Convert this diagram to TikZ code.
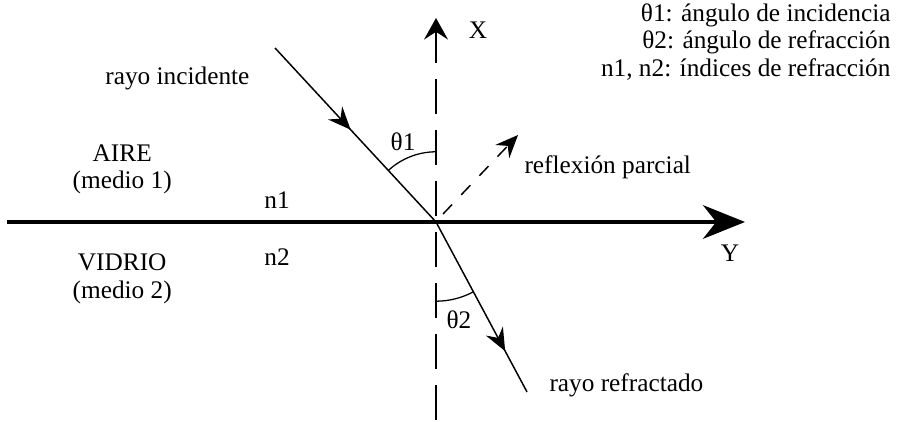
\documentclass[tikz,border=0pt]{standalone}
\usepackage{fontspec}
\setmainfont{Liberation Serif}
\usetikzlibrary{arrows.meta,positioning,decorations.markings}
\tikzset{
  axis/.style={draw=black, line width=1.9pt, -{Stealth[length=7mm, width=5.6mm, inset=2.2mm]}},
  normal/.style={draw=black, line width=0.7pt, dash pattern=on 5.8mm off 2.7mm,
    -{Stealth[length=3.6mm, width=4mm, inset=1.3mm]}},
  ray/.style={draw=black, line width=0.7pt},
  refl/.style={draw=black, line width=0.7pt, dash pattern=on 2.2mm off 2.2mm,
    -{Stealth[length=3.8mm, width=3.2mm, inset=1.3mm]}},
  midarrow/.style={postaction={decorate}, decoration={markings,
    mark=at position #1 with {\arrow{Stealth[length=3.8mm, width=3.2mm, inset=1.3mm]}}}},
  lbl/.style={font=\fontsize{12}{13}\selectfont, inner sep=1pt},
  angarc/.style={draw=black, line width=0.6pt}
}
\begin{document}
\begin{tikzpicture}
  \useasboundingbox (-7.267,-3.333) rectangle (7.733,3.7);
  % puntos
  \coordinate (O)    at (0,0);
  \coordinate (yl)   at (-7.15,0);
  \coordinate (yr)   at (5.15,0);
  \coordinate (xb)   at (0,-3.3);
  \coordinate (xt)   at (0,3.4);
  \coordinate (inc)  at (-2.683,2.9);
  \coordinate (ref)  at (1.517,-2.833);
  \coordinate (rs)   at (0.117,0.133);
  \coordinate (rt)   at (1.367,1.45);

  % ejes
  \draw[axis] (yl) -- (yr);
  \draw[normal] (xb) -- (xt);
  \node[lbl] (xlab) at (0.7,3.2) {X};
  \node[lbl] (ylab) at (4.9,-0.52) {Y};

  % rayos
  \draw[ray, midarrow=0.47] (inc) -- (O);
  \draw[ray, midarrow=0.76] (O) -- (ref);
  \draw[refl] (rs) -- (rt);

  % angulos
  \draw[angarc] (O) ++(90:1.17) arc[start angle=90, end angle=133, radius=1.17];
  \draw[angarc] (O) ++(270:1.32) arc[start angle=270, end angle=298, radius=1.32];
  \node[lbl] (t1) at (-0.55,1.33) {θ1};
  \node[lbl] (t2) at (0.383,-1.63) {θ2};

  % textos
  \node[lbl, anchor=east] (rinc) at (-3.067,2.4) {rayo incidente};
  \node[lbl, anchor=west] (rpar) at (1.433,0.917) {reflexión parcial};
  \node[lbl, anchor=west] (rref) at (1.85,-2.72) {rayo refractado};
  \node[lbl, align=center] (aire) at (-5.23,0.88) {AIRE\\(medio 1)};
  \node[lbl, align=center] (vidrio) at (-5.23,-0.95) {VIDRIO\\(medio 2)};
  \node[lbl] (n1) at (-2.65,0.367) {n1};
  \node[lbl] (n2) at (-2.65,-0.583) {n2};
  \node[lbl, align=right, anchor=north east] (leyenda) at (7.617,3.68)
    {θ1: ángulo de incidencia\\θ2: ángulo de refracción\\n1, n2: índices de refracción};
\end{tikzpicture}
\end{document}
